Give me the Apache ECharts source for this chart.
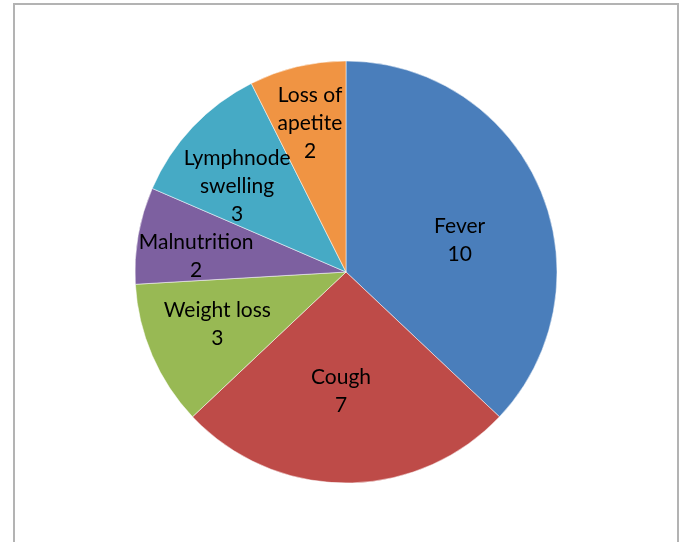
<!DOCTYPE html>
<html>
<head>
<meta charset="utf-8">
<script src="https://cdn.jsdelivr.net/npm/echarts@6/dist/echarts.min.js"></script>
<style>
html, body { margin: 0; padding: 0; background: #fff; overflow: hidden; }
#frame { position: absolute; left: 13px; top: 3px; width: 662px; height: 600px; border: 2px solid #b3b3b3; }
#main { position: absolute; left: 0; top: 0; width: 679px; height: 542px; }
</style>
</head>
<body>
<div id="frame"></div>
<div id="main"></div>
<script>
// symptom counts
var categories = ['Fever', 'Cough', 'Weight loss', 'Malnutrition', 'Lymphnode swelling', 'Loss of apetite'];
var labelText = ['Fever', 'Cough', 'Weight loss', 'Malnutrition', 'Lymphnode\nswelling', 'Loss of\napetite'];
var counts = [10, 7, 3, 2, 3, 2];
var colors = ['#4a7ebb', '#be4b48', '#98b954', '#7d60a0', '#46aac5', '#f09443'];

// nudge labels like excel's "best fit"
var labelShift = [[14, 11], [-5, 11], [-29, 9], [-43, 3], [-30, -11], [-11, -43]];

var myChart = echarts.init(document.getElementById('main'));
var data = [];
for (var i = 0; i < categories.length; i++) {
	data.push({ name: categories[i], value: counts[i], itemStyle: { color: colors[i] } });
}
option = {
	animation: false,
	series: [{
		type: 'pie',
		center: [346, 272],
		radius: 211,
		startAngle: 90,
		clockwise: true,
		itemStyle: {
			borderColor: 'rgba(255,255,255,0.5)',
			borderWidth: 1
		},
		label: {
			show: true,
			position: 'inside',
			fontFamily: 'Lato',
			fontSize: 21,
			lineHeight: 28,
			color: '#000',
			formatter: function (p) {
				return labelText[p.dataIndex] + '\n' + p.value;
			}
		},
		labelLine: { show: false },
		labelLayout: function (p) {
			var s = labelShift[p.dataIndex];
			return { dx: s[0], dy: s[1] };
		},
		emphasis: { disabled: true },
		data: data
	}]
};
myChart.setOption(option);
window.addEventListener("resize", function () {
	myChart.resize();
});
</script>
</body>
</html>
